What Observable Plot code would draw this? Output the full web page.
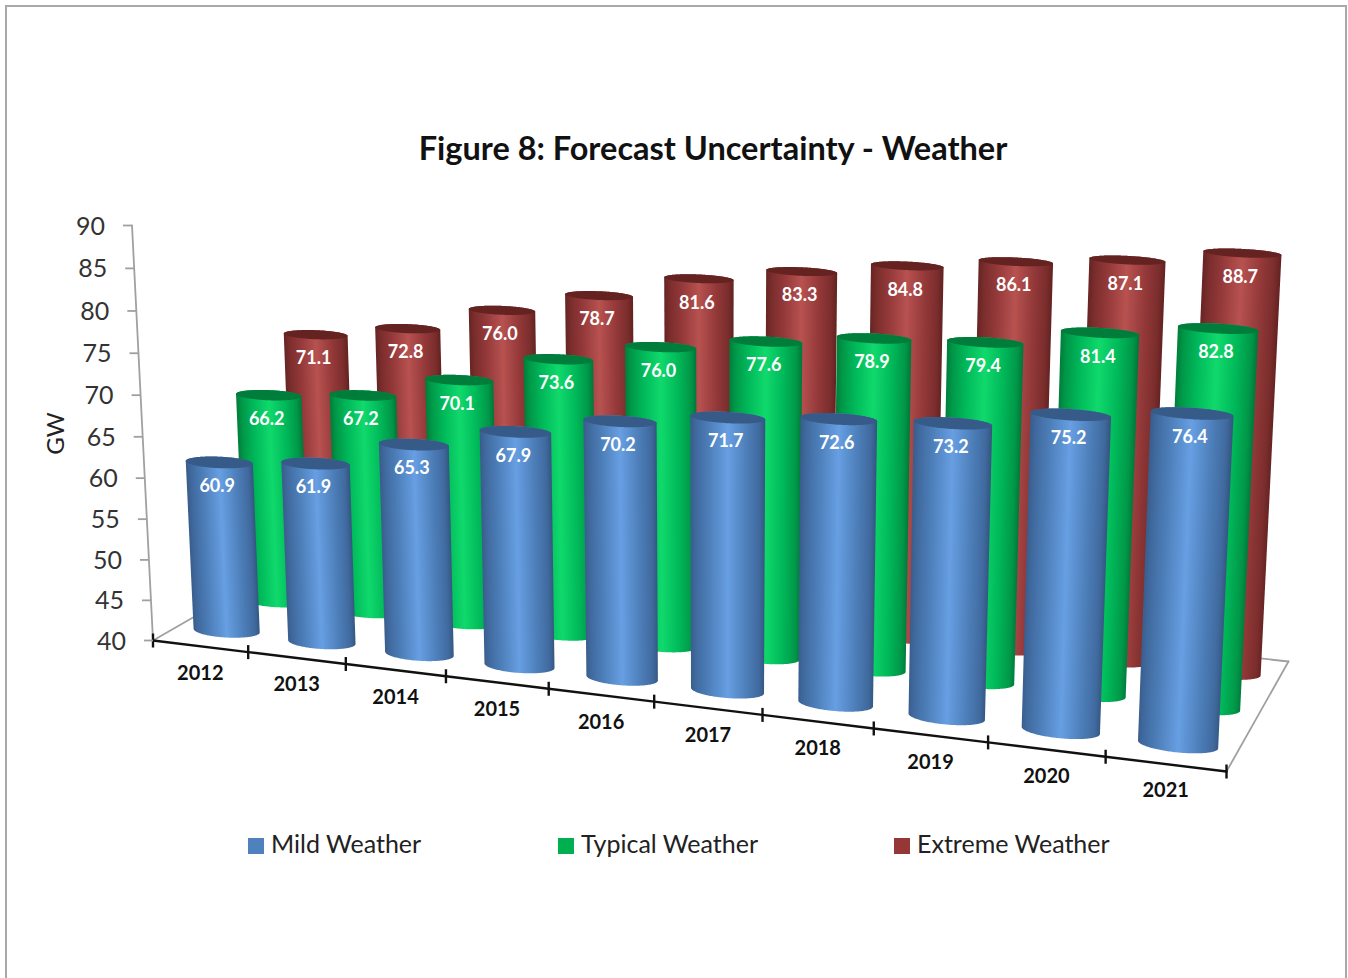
<!DOCTYPE html>
<html>
<head>
<meta charset="utf-8">
<script src="https://cdn.jsdelivr.net/npm/d3@7"></script>
<script src="https://cdn.jsdelivr.net/npm/@observablehq/plot@0.6"></script>
<style>
  html, body { margin: 0; padding: 0; width: 1348px; height: 978px; overflow: hidden; background: #fff; font-family: Lato, sans-serif; }
  #frame { position: absolute; left: 5px; top: 5px; width: 1342px; height: 1000px; border: 2px solid #a9a9a9; box-sizing: border-box; }
  #title { position: absolute; left: 0; top: 127px; width: 1426px; text-align: center; font-weight: 700; font-size: 32.5px; line-height: 42px; color: #111; }
  #chart { position: absolute; left: 0; top: 190px; }
  .key { position: absolute; top: 827px; font-size: 25px; line-height: 32px; color: #222; white-space: nowrap; }
  .key i { display: inline-block; width: 16px; height: 16px; margin-right: 7px; vertical-align: -1px; }
</style>
</head>
<body>
<div id="frame"></div>
<div id="title">Figure 8: Forecast Uncertainty - Weather</div>
<div id="chart"></div>
<div class="key" style="left:248px"><i style="background:#4f81bd"></i>Mild Weather</div>
<div class="key" style="left:558px"><i style="background:#00b050"></i>Typical Weather</div>
<div class="key" style="left:894px"><i style="background:#953735"></i>Extreme Weather</div>
<script>
// Forecast peak demand (GW) for each weather scenario.
const years = [2012, 2013, 2014, 2015, 2016, 2017, 2018, 2019, 2020, 2021];
const mild = [60.9, 61.9, 65.3, 67.9, 70.2, 71.7, 72.6, 73.2, 75.2, 76.4];
const typical = [66.2, 67.2, 70.1, 73.6, 76.0, 77.6, 78.9, 79.4, 81.4, 82.8];
const extreme = [71.1, 72.8, 76.0, 78.7, 81.6, 83.3, 84.8, 86.1, 87.1, 88.7];
const valueTicks = [40, 45, 50, 55, 60, 65, 70, 75, 80, 85, 90];

// Back row first so nearer cylinders paint over it.
const rows = [
  {values: extreme, depth: 5 / 6, stops: ["#652423", "#7a2d2c", "#95393a", "#b75250", "#95393a", "#7a2d2c", "#612221"], cap: "#642321"},
  {values: typical, depth: 1 / 2, stops: ["#007d3a", "#009748", "#00b95a", "#10d96c", "#00b95a", "#009748", "#00763a"], cap: "#007c3b"},
  {values: mild, depth: 1 / 6, stops: ["#395c8a", "#406a9f", "#4e80bb", "#679fe3", "#4e80bb", "#406a9f", "#33557e"], cap: "#365b88"}
];
const shadePositions = [0, 0.08, 0.26, 0.5, 0.74, 0.92, 1];

// Perspective view of the chart box: floor corners, the point where uprights
// converge, and the screen height of the top of the value axis.
const floorCorners = [[152.5, 640], [1226, 771], [1288, 661], [302, 554]];
const upright = [713, 11720];
const axisTop = 225;

const [[x0, y0], [x1, y1], [x2, y2], [x3, y3]] = floorCorners;
const sx = x0 - x1 + x2 - x3, sy = y0 - y1 + y2 - y3;
const dx1 = x1 - x2, dx2 = x3 - x2, dy1 = y1 - y2, dy2 = y3 - y2;
const den = dx1 * dy2 - dx2 * dy1;
const pu = (sx * dy2 - dx2 * sy) / den, pv = (dx1 * sy - sx * dy1) / den;
const ax = x1 - x0 + pu * x1, bx = x3 - x0 + pv * x3;
const ay = y1 - y0 + pu * y1, by = y3 - y0 + pv * y3;
const pt = (axisTop - y0) / (upright[1] - axisTop);

// Maps (along the years, into the depth, GW) to screen position.
function project(u, v, gw) {
  const t = (gw - 40) / 50;
  const w = pu * u + pv * v + pt * t + 1;
  return [
    (ax * u + bx * v + x0 + upright[0] * pt * t) / w,
    (ay * u + by * v + y0 + upright[1] * pt * t) / w
  ];
}

const radiusU = 0.0335, radiusV = 0.065;
const slot = i => (i + 0.5) / years.length;
const angles = d3.range(0, 360, 2).map(deg => deg * Math.PI / 180);
const ring = (u, v, gw) => angles.map(th => project(u + radiusU * Math.cos(th), v - radiusV * Math.sin(th), gw));

const chartTop = 190, chartHeight = 640;
const pieces = [];
const labels = [];
const gradients = [];
let id = 0;
for (const row of rows) {
  row.values.forEach((value, i) => {
    const u = slot(i), v = row.depth;
    const base = ring(u, v, 40), cap = ring(u, v, value);
    const fillId = `side-${id}`;

    // The shading runs across the cylinder, square to its leaning axis.
    const baseCentre = project(u, v, 40), capCentre = project(u, v, value);
    const along = [capCentre[0] - baseCentre[0], capCentre[1] - baseCentre[1]];
    const size = Math.hypot(...along);
    const across = [-along[1] / size, along[0] / size];
    const extent = pts => d3.extent(pts, p => p[0] * across[0] + p[1] * across[1]);
    const [lo, hi] = extent([...base, ...cap].map(p => [p[0], p[1]]));
    const mid = [(baseCentre[0] + capCentre[0]) / 2, (baseCentre[1] + capCentre[1]) / 2];
    const offset = mid[0] * across[0] + mid[1] * across[1];
    gradients.push({
      fillId, stops: row.stops,
      from: [mid[0] + across[0] * (lo - offset), mid[1] + across[1] * (lo - offset) - chartTop],
      to: [mid[0] + across[0] * (hi - offset), mid[1] + across[1] * (hi - offset) - chartTop]
    });

    id++;
    for (const [px, py] of d3.polygonHull([...base, ...cap])) pieces.push({id, px, py, color: `url(#${fillId})`});
    id++;
    for (const [px, py] of cap) pieces.push({id, px, py, color: row.cap});
    labels.push({lx: capCentre[0], ly: capCentre[1], text: value.toFixed(1)});
  });
}

// Linear gradients for the cylinder sides, in the plot's own coordinates.
function sideGradients() {
  const defs = d3.create("svg:defs");
  for (const g of gradients) {
    const grad = defs.append("linearGradient")
      .attr("id", g.fillId)
      .attr("gradientUnits", "userSpaceOnUse")
      .attr("x1", g.from[0]).attr("y1", g.from[1])
      .attr("x2", g.to[0]).attr("y2", g.to[1]);
    g.stops.forEach((c, j) => grad.append("stop").attr("offset", shadePositions[j]).attr("stop-color", c));
  }
  return defs.node();
}

const corner = (u, v) => project(u, v, 40);
const frameLines = [
  {id: "left", points: [corner(0, 0), corner(0, 1)]},
  {id: "back", points: [corner(0, 1), corner(1, 1)]},
  {id: "right", points: [corner(1, 1), corner(1, 0)]},
  {id: "wall", points: [project(0, 0, 40), project(0, 0, 90)]}
].flatMap(l => l.points.map(([px, py]) => ({id: l.id, px, py})));

const valueAxis = valueTicks.map(v => {
  const [px, py] = project(0, 0, v);
  return {v, px, py};
});
const yearTicks = d3.range(years.length + 1).map(i => {
  const [px, py] = corner(i / years.length, 0);
  return {px, py};
});
const yearLabels = years.map((year, i) => {
  const [px, py] = corner(slot(i), 0);
  return {year, px, py};
});

const chart = Plot.plot({
  width: 1348,
  height: chartHeight,
  margin: 0,
  style: {background: "transparent", overflow: "visible"},
  x: {domain: [0, 1348], range: [0, 1348], axis: null},
  y: {domain: [chartTop, chartTop + chartHeight], range: [0, chartHeight], axis: null},
  color: {type: "identity"},
  marks: [
    sideGradients,
    Plot.line(frameLines, {x: "px", y: "py", z: "id", stroke: "#a0a0a0", strokeWidth: 1.8}),
    Plot.line(pieces, {x: "px", y: "py", z: "id", fill: "color", stroke: "none", curve: "linear-closed"}),
    Plot.line(yearTicks, {x: "px", y: "py", stroke: "#111", strokeWidth: 2.4}),
    Plot.link(yearTicks, {x1: "px", x2: "px", y1: p => p.py - 7, y2: p => p.py + 7, stroke: "#111", strokeWidth: 2.4}),
    Plot.link(valueAxis, {x1: p => p.px - 9, x2: "px", y1: "py", y2: "py", stroke: "#a0a0a0", strokeWidth: 1.8}),
    Plot.text(valueAxis, {x: "px", y: "py", text: "v", dx: -27, dy: 1, textAnchor: "end", fontSize: 25, fill: "#333", fontFamily: "Lato"}),
    Plot.text(yearLabels, {x: "px", y: "py", text: p => String(p.year), dy: 27, fontSize: 20, fontWeight: 700, fill: "#111", fontFamily: "Lato"}),
    Plot.text(labels, {x: "lx", y: "ly", text: "text", dx: -2, dy: 24, fontSize: 18, fontWeight: 700, fill: "#fff", fontFamily: "Lato"}),
    Plot.text(["GW"], {x: () => 56, y: () => 433, text: t => t, rotate: -90, fontSize: 24, fill: "#222", fontFamily: "Lato"})
  ]
});
document.getElementById("chart").append(chart);
</script>
</body>
</html>
